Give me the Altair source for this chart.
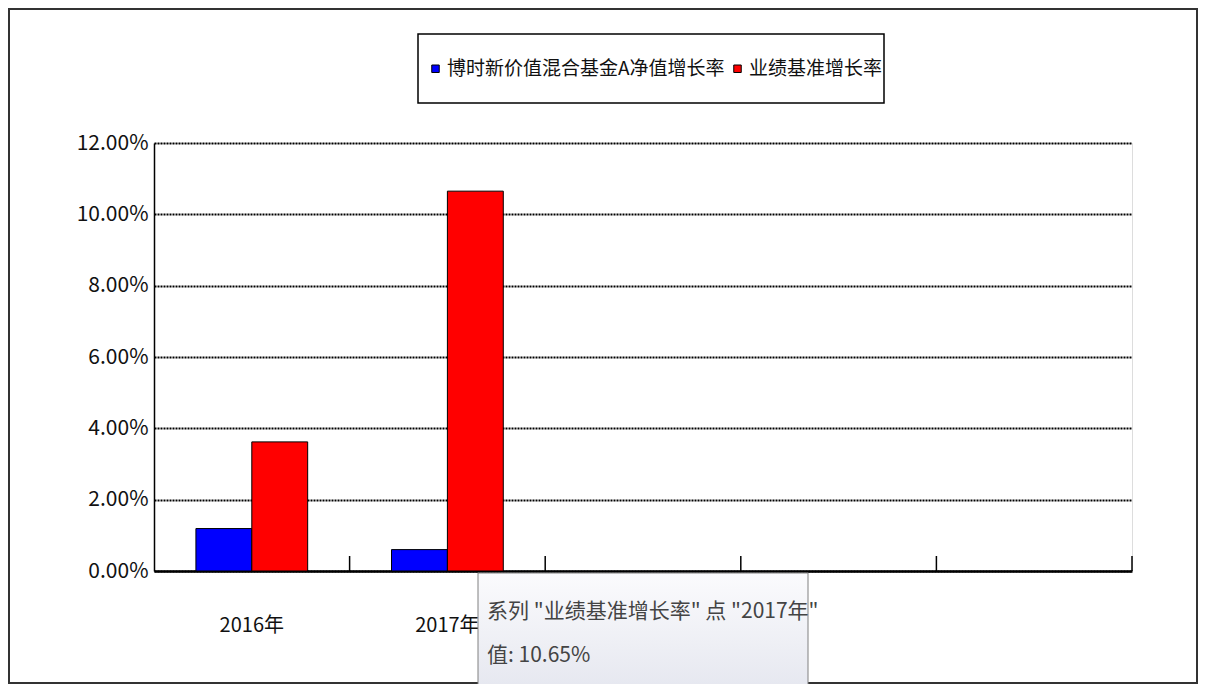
import altair as alt
import pandas as pd

categories = ["2016年", "2017年", "c3", "c4", "c5"]
series = ["博时新价值混合基金A净值增长率", "业绩基准增长率"]
fund_values = [1.19, 0.60]
bench_values = [3.62, 10.65]
y_ticks = [0, 2, 4, 6, 8, 10, 12]
colors = ["#0000FF", "#FF0000"]

tip_series = series[1]
tip_cat = categories[1]
tip_value = bench_values[1]

FONT = "Noto Sans CJK SC"

rows = []
for i, c in enumerate(categories[:2]):
    rows.append({"cat": c, "series": series[0], "value": fund_values[i]})
    rows.append({"cat": c, "series": series[1], "value": bench_values[i]})
df = pd.DataFrame(rows)
ticks_df = pd.DataFrame({"cat": categories})
tip_df = pd.DataFrame({
    "t1": [f'系列 "{tip_series}" 点 "{tip_cat}"'],
    "t2": [f"值: {tip_value:.2f}%"],
})
one = pd.DataFrame({"k": [1]})

xscale = alt.Scale(domain=categories, paddingInner=0, paddingOuter=0)
xaxis = alt.Axis(
    labelExpr="indexof(datum.label, '年') >= 0 ? datum.label : ''",
    ticks=False, domainColor="black", domainWidth=2.5, labelAngle=0,
    labelFontSize=20, labelPadding=44, title=None, grid=False,
    labelColor="#111", labelFont=FONT,
)
yaxis = alt.Axis(
    values=y_ticks, labelExpr="format(datum.value, '.2f') + '%'",
    ticks=False, grid=True, gridColor="black", gridDash=[2, 1], gridWidth=2,
    domainColor="black", domainWidth=1.5, labelFontSize=21, labelColor="#111",
    labelPadding=6, title=None, labelFont=FONT,
)

frame = alt.Chart(one).mark_rect(filled=False, stroke="#333", strokeWidth=2).encode(
    x=alt.value(-145), x2=alt.value(1043), y=alt.value(-134), y2=alt.value(540)
)

legend_box = alt.Chart(one).mark_rect(fill="white", stroke="black", strokeWidth=1.5).encode(
    x=alt.value(264), x2=alt.value(730), y=alt.value(-109), y2=alt.value(-40)
)

bars = alt.Chart(df).mark_bar(stroke="black", strokeWidth=1).encode(
    x=alt.X("cat:N", scale=xscale, axis=xaxis),
    xOffset=alt.XOffset("series:N", scale=alt.Scale(domain=series, paddingOuter=0.75, paddingInner=0)),
    y=alt.Y("value:Q", scale=alt.Scale(domain=[0, 12], nice=False), axis=yaxis),
    color=alt.Color(
        "series:N",
        scale=alt.Scale(domain=series, range=colors),
        legend=alt.Legend(
            orient="none", legendX=272, legendY=-84, direction="horizontal",
            title=None, padding=0,
            symbolType="square", symbolSize=56, symbolStrokeColor="black",
            symbolStrokeWidth=1, labelFontSize=19, labelColor="#111",
            columnPadding=3, labelOffset=2, labelLimit=400, labelFont=FONT,
        ),
    ),
)

ticks = alt.Chart(ticks_df).mark_rule(color="black", strokeWidth=1.5).encode(
    x=alt.X("cat:N", bandPosition=1, scale=xscale, axis=xaxis),
    y=alt.value(413), y2=alt.value(428),
)

tip_rect = alt.Chart(one).mark_rect(
    stroke="#808080", strokeWidth=1,
    fill=alt.LinearGradient(
        gradient="linear", x1=0, y1=0, x2=0, y2=1,
        stops=[alt.GradientStop(color="#fbfbfd", offset=0),
               alt.GradientStop(color="#e3e5ee", offset=1)],
    ),
).encode(x=alt.value(324), x2=alt.value(654), y=alt.value(430), y2=alt.value(560))

tip_t1 = alt.Chart(tip_df).mark_text(
    align="left", baseline="middle", fontSize=21, color="#444", font=FONT
).encode(text="t1:N", x=alt.value(333), y=alt.value(469))

tip_t2 = alt.Chart(tip_df).mark_text(
    align="left", baseline="middle", fontSize=21, color="#444", font=FONT
).encode(text="t2:N", x=alt.value(333), y=alt.value(513))

chart = alt.layer(frame, legend_box, bars, ticks, tip_rect, tip_t1, tip_t2).properties(
    width=978, height=428,
    padding={"left": 146, "top": 135, "right": 66, "bottom": 113},
    autosize=alt.AutoSizeParams(type="none"),
).configure_view(stroke=None).configure(font=FONT)

chart.save("out.html", embed_options={"renderer": "svg", "actions": False})
